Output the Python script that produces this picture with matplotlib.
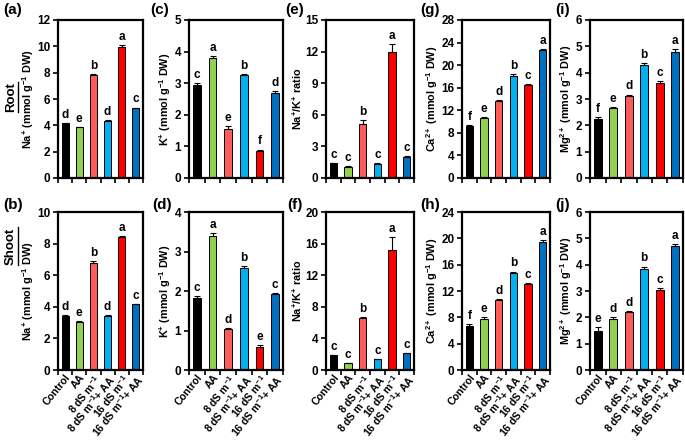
import matplotlib
matplotlib.use('Agg')
import matplotlib.pyplot as plt
from matplotlib.lines import Line2D
import numpy as np

plt.rcParams['font.family'] = 'Liberation Sans'
plt.rcParams['font.weight'] = 'bold'
plt.rcParams['mathtext.fontset'] = 'custom'
plt.rcParams['mathtext.rm'] = 'Liberation Sans:bold'
plt.rcParams['mathtext.bf'] = 'Liberation Sans:bold'
plt.rcParams['mathtext.it'] = 'Liberation Sans:bold'

treatments = ['Control', 'AA', r'8 dS m$^{-1}$', r'8 dS m$^{-1}$+ AA',
              r'16 dS m$^{-1}$', r'16 dS m$^{-1}$+ AA']
bar_colors = ['#000000', '#92D050', '#FF5B5B', '#00B0F0', '#FF0000', '#0070C0']

# root
root_na = [4.15, 3.85, 7.85, 4.35, 9.95, 5.3]
root_na_err = [0.05, 0.05, 0.05, 0.05, 0.15, 0.05]
root_na_let = ['d', 'e', 'b', 'd', 'a', 'c']
root_k = [2.95, 3.8, 1.55, 3.25, 0.85, 2.7]
root_k_err = [0.05, 0.07, 0.08, 0.03, 0.05, 0.04]
root_k_let = ['c', 'a', 'e', 'b', 'f', 'd']
root_ratio = [1.4, 1.05, 5.15, 1.35, 12.0, 2.0]
root_ratio_err = [0.05, 0.05, 0.35, 0.05, 0.75, 0.05]
root_ratio_let = ['c', 'c', 'b', 'c', 'a', 'c']
root_ca = [9.3, 10.6, 13.6, 18.0, 16.5, 22.6]
root_ca_err = [0.1, 0.15, 0.2, 0.4, 0.15, 0.3]
root_ca_let = ['f', 'e', 'd', 'b', 'c', 'a']
root_mg = [2.25, 2.65, 3.1, 4.3, 3.6, 4.8]
root_mg_err = [0.08, 0.05, 0.07, 0.05, 0.08, 0.1]
root_mg_let = ['f', 'e', 'd', 'b', 'c', 'a']

# shoot
shoot_na = [3.4, 3.05, 6.8, 3.4, 8.4, 4.15]
shoot_na_err = [0.07, 0.05, 0.12, 0.05, 0.1, 0.05]
shoot_na_let = ['d', 'e', 'b', 'd', 'a', 'c']
shoot_k = [1.83, 3.4, 1.05, 2.57, 0.57, 1.92]
shoot_k_err = [0.05, 0.07, 0.02, 0.06, 0.07, 0.03]
shoot_k_let = ['c', 'a', 'd', 'b', 'e', 'c']
shoot_ratio = [1.85, 0.85, 6.6, 1.35, 15.2, 2.15]
shoot_ratio_err = [0.05, 0.05, 0.08, 0.05, 1.6, 0.05]
shoot_ratio_let = ['c', 'c', 'b', 'c', 'a', 'c']
shoot_ca = [6.7, 7.8, 10.6, 14.8, 13.1, 19.5]
shoot_ca_err = [0.25, 0.2, 0.2, 0.15, 0.15, 0.3]
shoot_ca_let = ['f', 'e', 'd', 'b', 'c', 'a']
shoot_mg = [1.5, 1.95, 2.22, 3.85, 3.03, 4.72]
shoot_mg_err = [0.12, 0.06, 0.03, 0.08, 0.07, 0.07]
shoot_mg_let = ['e', 'd', 'd', 'b', 'c', 'a']

ylab_na = r'Na$^{+}$ (mmol g$^{-1}$ DW)'
ylab_k = r'K$^{+}$ (mmol g$^{-1}$ DW)'
ylab_ratio = r'Na$^{+}$/K$^{+}$ ratio'
ylab_ca = r'Ca$^{2+}$ (mmol g$^{-1}$ DW)'
ylab_mg = r'Mg$^{2+}$ (mmol g$^{-1}$ DW)'

W, H = 685, 440
lefts = [58, 189, 326, 462, 590]
rights = [143, 283, 414, 550, 683]
row_tb = [(20, 178), (212, 370)]
tag_x = [[3, 150, 285, 420, 555], [3, 152, 287, 420, 555]]
tag_y = [10, 205]

panels = [
    [('(a)', root_na, root_na_err, root_na_let, ylab_na, 12, 2),
     ('(c)', root_k, root_k_err, root_k_let, ylab_k, 5, 1),
     ('(e)', root_ratio, root_ratio_err, root_ratio_let, ylab_ratio, 15, 3),
     ('(g)', root_ca, root_ca_err, root_ca_let, ylab_ca, 28, 4),
     ('(i)', root_mg, root_mg_err, root_mg_let, ylab_mg, 6, 1)],
    [('(b)', shoot_na, shoot_na_err, shoot_na_let, ylab_na, 10, 2),
     ('(d)', shoot_k, shoot_k_err, shoot_k_let, ylab_k, 4, 1),
     ('(f)', shoot_ratio, shoot_ratio_err, shoot_ratio_let, ylab_ratio, 20, 4),
     ('(h)', shoot_ca, shoot_ca_err, shoot_ca_let, ylab_ca, 24, 4),
     ('(j)', shoot_mg, shoot_mg_err, shoot_mg_let, ylab_mg, 6, 1)],
]

fig = plt.figure(figsize=(W / 100, H / 100), dpi=100)
x = np.arange(len(treatments))

for r, row in enumerate(panels):
    top, bot = row_tb[r]
    for c, (tag, vals, errs, lets, ylab, ymax, ystep) in enumerate(row):
        ax = fig.add_axes([lefts[c] / W, 1 - bot / H,
                           (rights[c] - lefts[c]) / W, (bot - top) / H])
        ax.bar(x, vals, width=0.5, color=bar_colors, edgecolor='black', linewidth=0.7,
               yerr=[np.zeros(len(vals)), errs], capsize=2.5,
               error_kw=dict(elinewidth=0.8, capthick=0.8, ecolor='black'))
        for xi, v, e, l in zip(x, vals, errs, lets):
            ax.annotate(l, (xi, v + e), xytext=(0, 1.5), textcoords='offset points',
                        ha='center', va='bottom', fontsize=8.5, fontweight='bold')
        ax.set_xlim(-0.5, len(x) - 0.5)
        ax.set_ylim(0, ymax)
        ax.set_yticks(np.arange(0, ymax + 0.01, ystep))
        ax.set_xticks(x)
        ax.set_xticks(np.arange(-0.5, len(x), 1), minor=True)
        ax.tick_params(axis='x', which='major', length=0, pad=2)
        ax.tick_params(axis='x', which='minor', length=3.5, width=1.2, direction='out')
        ax.tick_params(axis='y', length=3.5, width=1.2, direction='out', labelsize=8.5, pad=2)
        for lab in ax.get_yticklabels():
            lab.set_fontweight('bold')
        if r == 1:
            ax.set_xticklabels(treatments, rotation=51, ha='right', va='top',
                               rotation_mode='anchor', fontsize=7.5, fontweight='bold')
        else:
            ax.set_xticklabels([])
        for s in ax.spines.values():
            s.set_linewidth(1.6)
        ax.set_ylabel(ylab, fontsize=7.8, fontweight='bold', labelpad=1)
        fig.text(tag_x[r][c] / W, 1 - tag_y[r] / H, tag, fontsize=11,
                 fontweight='bold', ha='left', va='center')

# row titles, underlined
for name, yc in [('Root', 97), ('Shoot', 246)]:
    t = fig.text(11 / W, 1 - yc / H, name, fontsize=9.5, fontweight='bold',
                 rotation=90, ha='center', va='center')
    fig.canvas.draw()
    bb = t.get_window_extent().transformed(fig.transFigure.inverted())
    lx = bb.x1 + 0.5 / W
    fig.add_artist(Line2D([lx, lx], [bb.y0, bb.y1], transform=fig.transFigure,
                          color='black', linewidth=1.0))

fig.savefig('out.png', dpi=100)
